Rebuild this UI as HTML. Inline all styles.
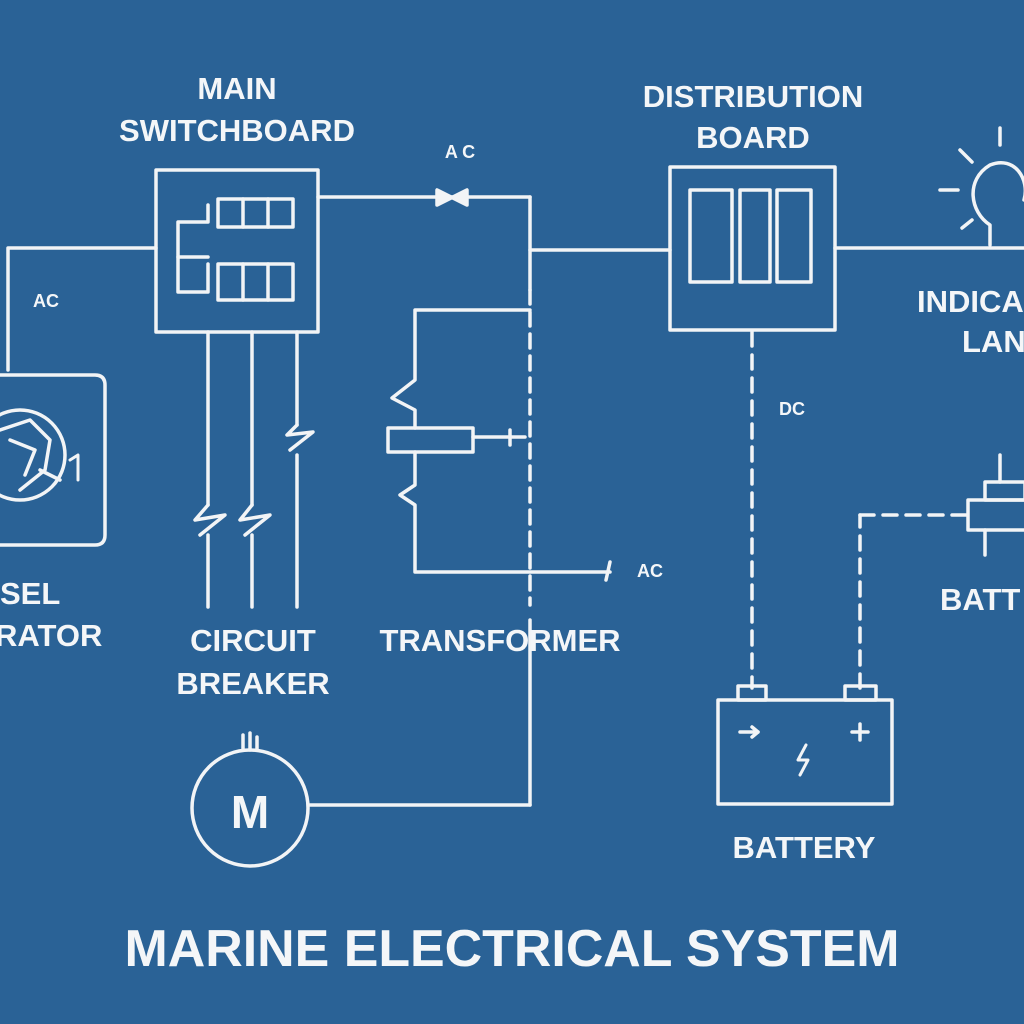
<!DOCTYPE html>
<html><head><meta charset="utf-8"><style>
html,body{margin:0;padding:0;width:1024px;height:1024px;overflow:hidden;background:#2a6296}
svg{display:block}
text{font-family:"Liberation Sans",sans-serif;fill:#f4f6f8;text-anchor:middle}
</style></head><body>
<svg width="1024" height="1024" viewBox="0 0 1024 1024">
<rect width="1024" height="1024" fill="#2a6296"/>
<g stroke="#f2f4f6" stroke-width="3.5" fill="none" stroke-linecap="round" stroke-linejoin="round">
  <g>
    <rect x="156" y="170" width="162" height="162"/>
    <rect x="218" y="199" width="75" height="28"/><line x1="243" y1="199" x2="243" y2="227"/><line x1="268" y1="199" x2="268" y2="227"/>
    <rect x="218" y="264" width="75" height="36"/><line x1="243" y1="264" x2="243" y2="300"/><line x1="268" y1="264" x2="268" y2="300"/>
    <path d="M208 205 L208 222 L178 222 L178 292 L208 292 L208 264"/>
    <line x1="178" y1="257" x2="208" y2="257"/>
  </g>
  <line x1="318" y1="197" x2="530" y2="197"/>
  <path d="M437 190 L437 205 L467 190 L467 205 Z" fill="#f2f4f6"/>
  <line x1="530" y1="197" x2="530" y2="290"/>
  <line x1="530" y1="290" x2="530" y2="605" stroke-dasharray="14 8"/>
  <line x1="530" y1="620" x2="530" y2="805"/>
  <line x1="530" y1="250" x2="670" y2="250"/>
  <g>
    <rect x="670" y="167" width="165" height="163"/>
    <rect x="690" y="190" width="42" height="92"/><rect x="740" y="190" width="30" height="92"/><rect x="777" y="190" width="34" height="92"/>
  </g>
  <line x1="835" y1="248" x2="1024" y2="248"/>
  <g>
    <path d="M990 245 L990 225 C970 212 965 180 990 165 C1015 155 1030 180 1024 200"/>
    <line x1="960" y1="150" x2="972" y2="162"/><line x1="940" y1="190" x2="958" y2="190"/><line x1="1000" y1="128" x2="1000" y2="145"/><line x1="962" y1="228" x2="972" y2="220"/>
  </g>
  <line x1="752" y1="332" x2="752" y2="688" stroke-dasharray="14 9"/>
  <line x1="860" y1="688" x2="860" y2="515" stroke-dasharray="14 9"/>
  <line x1="860" y1="515" x2="968" y2="515" stroke-dasharray="14 9"/>
  <g>
    <rect x="968" y="500" width="60" height="30"/><rect x="985" y="482" width="40" height="18"/>
    <line x1="1000" y1="455" x2="1000" y2="482"/><line x1="985" y1="530" x2="985" y2="555"/>
  </g>
  <g>
    <rect x="718" y="700" width="174" height="104"/>
    <rect x="738" y="686" width="28" height="14"/><rect x="845" y="686" width="31" height="14"/>
    <line x1="740" y1="732" x2="758" y2="732"/><path d="M752 727 L758 732 L752 737"/><line x1="852" y1="732" x2="868" y2="732"/><line x1="860" y1="724" x2="860" y2="740"/>
    <path d="M806 745 L798 760 L808 760 L800 775" stroke-width="3"/>
  </g>
  <g>
    <path d="M0 375 L95 375 Q105 375 105 385 L105 535 Q105 545 95 545 L0 545"/>
    <circle cx="20" cy="455" r="45"/>
    <path d="M0 430 L30 420 L50 440 L45 470 L20 490 M10 440 L35 450 L25 475 M40 470 L60 480"/>
    <path d="M70 460 L78 455 L78 480" stroke-width="3"/>
  </g>
  <path d="M8 370 L8 248 L156 248"/>
  <g>
    <line x1="208" y1="332" x2="208" y2="505"/><path d="M208 505 L195 520 L225 515 L200 535"/><line x1="208" y1="535" x2="208" y2="607"/>
    <line x1="252" y1="332" x2="252" y2="505"/><path d="M252 505 L240 520 L270 515 L245 535"/><line x1="252" y1="535" x2="252" y2="607"/>
    <line x1="297" y1="332" x2="297" y2="425"/><path d="M297 425 L287 435 L313 432 L290 450"/><line x1="297" y1="455" x2="297" y2="607"/>
  </g>
  <g>
    <path d="M530 310 L415 310 L415 380 L392 398 L415 410 L415 428"/>
    <rect x="388" y="428" width="85" height="24"/>
    <line x1="473" y1="437" x2="525" y2="437"/><line x1="510" y1="430" x2="510" y2="445"/>
    <path d="M415 452 L415 485 L400 495 L415 505 L415 572 L610 572"/>
    <line x1="610" y1="562" x2="606" y2="580"/>
  </g>
  <g>
    <circle cx="250" cy="808" r="58"/>
    <line x1="243" y1="735" x2="243" y2="750"/><line x1="250" y1="733" x2="250" y2="750"/><line x1="257" y1="737" x2="257" y2="750"/>
    <line x1="310" y1="805" x2="530" y2="805"/>
  </g>
</g>
<g font-weight="bold">
<text x="237" y="99" font-size="31">MAIN</text>
<text x="237" y="141" font-size="31">SWITCHBOARD</text>
<text x="460" y="158" font-size="18">A C</text>
<text x="753" y="107" font-size="31">DISTRIBUTION</text>
<text x="753" y="148" font-size="31">BOARD</text>
<text x="917" y="312" font-size="31" style="text-anchor:start">INDICA</text>
<text x="962" y="352" font-size="31" style="text-anchor:start">LAN</text>
<text x="46" y="307" font-size="18">AC</text>
<text x="792" y="415" font-size="18">DC</text>
<text x="650" y="577" font-size="18">AC</text>
<text x="940" y="610" font-size="31" style="text-anchor:start">BATT</text>
<text x="0" y="604" font-size="31" style="text-anchor:start">SEL</text>
<text x="-5" y="646" font-size="31" style="text-anchor:start">RATOR</text>
<text x="253" y="651" font-size="31">CIRCUIT</text>
<text x="253" y="694" font-size="31">BREAKER</text>
<text x="500" y="651" font-size="31">TRANSFORMER</text>
<text x="804" y="858" font-size="31">BATTERY</text>
<text x="250" y="828" font-size="46">M</text>
<text x="512" y="966" font-size="52" textLength="775" lengthAdjust="spacingAndGlyphs">MARINE ELECTRICAL SYSTEM</text>
</g>
</svg>
</body></html>
